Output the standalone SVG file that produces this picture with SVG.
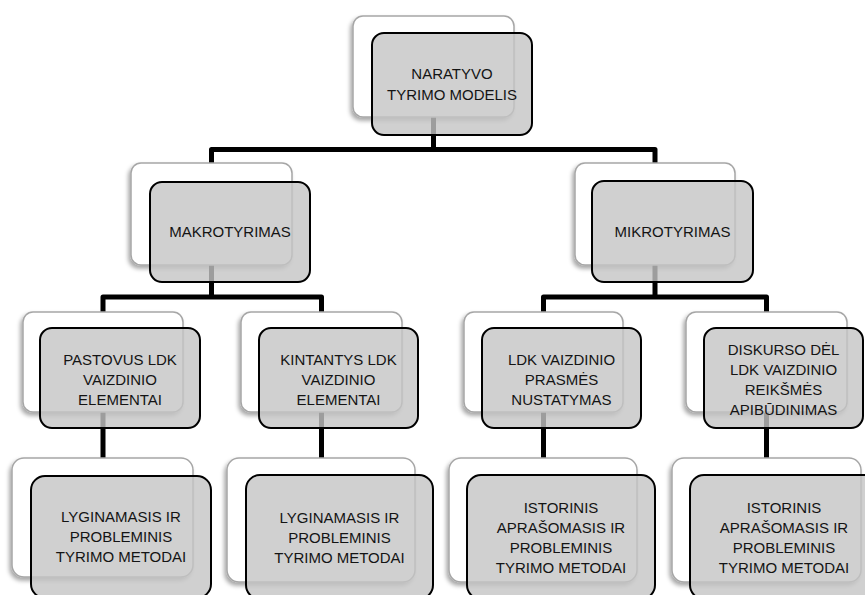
<svg xmlns="http://www.w3.org/2000/svg" width="865" height="595" viewBox="0 0 865 595">
<defs>
<filter id="sh" x="-20%" y="-20%" width="140%" height="140%">
<feDropShadow dx="-2" dy="3" stdDeviation="2" flood-color="#000" flood-opacity="0.35"/>
</filter>
</defs>
<style>
.back{fill:#ffffff;stroke:#a6a6a6;stroke-width:1.5;filter:url(#sh)}
.front{fill:#c4c4c4;fill-opacity:0.8;stroke:#000;stroke-width:2}
.conn{fill:none;stroke:#000;stroke-width:5;stroke-linejoin:round}
text{font-family:"Liberation Sans",Arial,sans-serif;font-size:15px;fill:#141414;text-anchor:middle}
</style>
<rect width="865" height="595" fill="#fff"/>
<g id="connectors">
<path class="conn" d="M433.5,117 V149.5 M211.5,163 V149.5 H655 V163"/>
<path class="conn" d="M211.5,265 V297 M103,312 V297 H321.5 V312"/>
<path class="conn" d="M655,265 V297 M543.5,312 V297 H766.5 V312"/>
<path class="conn" d="M103,412 V458 M321.5,412 V458 M543.5,412 V458 M766.5,412 V458"/>
</g>
<g id="n-naratyvo">
<rect class="back" x="353" y="16" width="161" height="101" rx="10"/>
<rect class="front" x="372" y="33" width="160" height="102" rx="12"/>
<text x="452" y="79">NARATYVO</text>
<text x="452" y="99.5">TYRIMO MODELIS</text>
</g>
<g id="n-makro">
<rect class="back" x="131" y="163" width="161" height="102" rx="10"/>
<rect class="front" x="150" y="182" width="160" height="100" rx="12"/>
<text x="230" y="237">MAKROTYRIMAS</text>
</g>
<g id="n-mikro">
<rect class="back" x="575" y="163" width="160" height="102" rx="10"/>
<rect class="front" x="592" y="181" width="161" height="101" rx="12"/>
<text x="672.5" y="237">MIKROTYRIMAS</text>
</g>
<g id="n-pastovus">
<rect class="back" x="23" y="312" width="160" height="100" rx="10"/>
<rect class="front" x="40" y="328" width="160" height="100" rx="12"/>
<text x="120" y="365">PASTOVUS LDK</text>
<text x="120" y="385">VAIZDINIO</text>
<text x="120" y="405">ELEMENTAI</text>
</g>
<g id="n-kintantys">
<rect class="back" x="241" y="312" width="161" height="100" rx="10"/>
<rect class="front" x="259" y="328" width="159" height="100" rx="12"/>
<text x="338.5" y="365">KINTANTYS LDK</text>
<text x="338.5" y="385">VAIZDINIO</text>
<text x="338.5" y="405">ELEMENTAI</text>
</g>
<g id="n-prasmes">
<rect class="back" x="464" y="312" width="159" height="100" rx="10"/>
<rect class="front" x="482" y="328" width="159" height="100" rx="12"/>
<text x="561.5" y="365">LDK VAIZDINIO</text>
<text x="561.5" y="385">PRASMĖS</text>
<text x="561.5" y="405">NUSTATYMAS</text>
</g>
<g id="n-diskurso">
<rect class="back" x="686" y="312" width="161" height="100" rx="10"/>
<rect class="front" x="704" y="328" width="159" height="100" rx="12"/>
<text x="783.5" y="355">DISKURSO DĖL</text>
<text x="783.5" y="375">LDK VAIZDINIO</text>
<text x="783.5" y="395">REIKŠMĖS</text>
<text x="783.5" y="415">APIBŪDINIMAS</text>
</g>
<g id="n-metodai1">
<rect class="back" x="12" y="458" width="181" height="119" rx="12"/>
<rect class="front" x="31" y="476" width="180" height="122" rx="14"/>
<text x="121" y="522">LYGINAMASIS IR</text>
<text x="121" y="542">PROBLEMINIS</text>
<text x="121" y="562">TYRIMO METODAI</text>
</g>
<g id="n-metodai2">
<rect class="back" x="227" y="458" width="188" height="124" rx="12"/>
<rect class="front" x="246" y="475" width="187" height="124" rx="14"/>
<text x="339.5" y="523">LYGINAMASIS IR</text>
<text x="339.5" y="543">PROBLEMINIS</text>
<text x="339.5" y="563">TYRIMO METODAI</text>
</g>
<g id="n-metodai3">
<rect class="back" x="449" y="458" width="188" height="124" rx="12"/>
<rect class="front" x="467" y="475" width="188" height="124" rx="14"/>
<text x="561" y="513">ISTORINIS</text>
<text x="561" y="533">APRAŠOMASIS IR</text>
<text x="561" y="553">PROBLEMINIS</text>
<text x="561" y="573">TYRIMO METODAI</text>
</g>
<g id="n-metodai4">
<rect class="back" x="672" y="458" width="189" height="124" rx="12"/>
<rect class="front" x="690" y="475" width="188" height="124" rx="14"/>
<text x="784" y="513">ISTORINIS</text>
<text x="784" y="533">APRAŠOMASIS IR</text>
<text x="784" y="553">PROBLEMINIS</text>
<text x="784" y="573">TYRIMO METODAI</text>
</g>
</svg>
